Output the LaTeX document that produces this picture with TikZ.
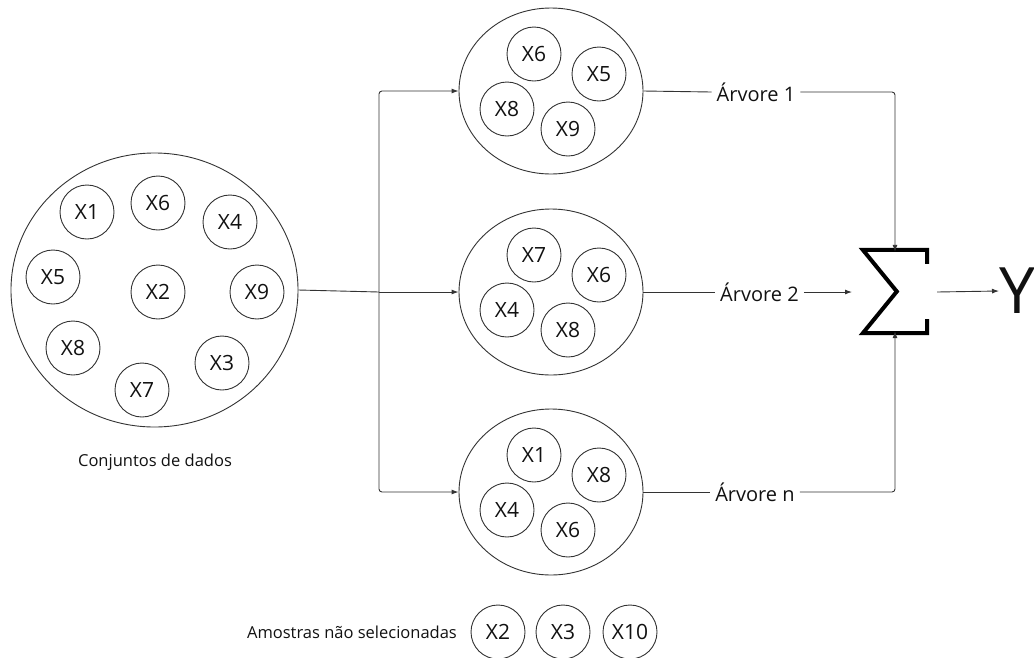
\documentclass[tikz,border=0pt]{standalone}
\usepackage{fontspec}
\setmainfont{Open Sans}
\usetikzlibrary{shapes.geometric,arrows.meta}
\definecolor{ln}{HTML}{333333}
\definecolor{tx}{HTML}{111111}
\begin{document}
\begin{tikzpicture}[x=1pt,y=-1pt,
  ball/.style={circle,draw=ln,line width=0.9pt,minimum size=54pt,inner sep=0pt,
    text=tx,font=\fontsize{21}{23}\selectfont},
  bag/.style={ellipse,draw=ln,line width=0.9pt,minimum width=184pt,minimum height=166pt,inner sep=0pt},
  lab/.style={text=tx,font=\fontsize{16.5}{18}\selectfont,inner sep=0pt},
  tree/.style={text=tx,font=\fontsize{20}{22}\selectfont,inner sep=5pt},
  wire/.style={draw=ln,line width=0.9pt},
  arr/.style={wire,-{Latex[length=7pt,width=5pt]}},
]
\useasboundingbox (0,0) rectangle (1034,657);

% full data set
\node[ellipse,draw=ln,line width=0.9pt,minimum width=287pt,minimum height=274pt,inner sep=0pt] (data) at (154.5,290) {};
\node[ball] (d1) at (87,212) {X1};
\node[ball] (d6) at (158,203) {X6};
\node[ball] (d4) at (230,222) {X4};
\node[ball] (d5) at (53,277) {X5};
\node[ball] (d2) at (158,292) {X2};
\node[ball] (d9) at (257,292) {X9};
\node[ball] (d8) at (73,348) {X8};
\node[ball] (d3) at (222,363) {X3};
\node[ball] (d7) at (142,390) {X7};
\node[lab] (cap) at (155,462) {Conjuntos de dados};

% bootstrap samples
\node[bag] (t1) at (551,91) {};
\node[ball] (a6) at (534,54) {X6};
\node[ball] (a5) at (599,74) {X5};
\node[ball] (a8) at (507,109) {X8};
\node[ball] (a9) at (568,129) {X9};

\node[bag] (t2) at (551,292) {};
\node[ball] (b7) at (534,255) {X7};
\node[ball] (b6) at (599,275) {X6};
\node[ball] (b4) at (507,310) {X4};
\node[ball] (b8) at (568,330) {X8};

\node[bag] (tn) at (551,492) {};
\node[ball] (c1) at (534,455) {X1};
\node[ball] (c8) at (599,475) {X8};
\node[ball] (c4) at (507,510) {X4};
\node[ball] (c6) at (568,530) {X6};

% split from the data set
\coordinate (jn) at (379,292);
\draw[wire] (data.east) -- (jn);
\draw[arr,rounded corners=3pt] (jn) |- (t1.west);
\draw[arr] (jn) -- (t2.west);
\draw[arr,rounded corners=3pt] (jn) |- (tn.west);

% trees
\node[tree] (v1) at (756,92) {Árvore 1};
\node[tree] (v2) at (759.5,292) {Árvore 2};
\node[tree] (vn) at (755,492) {Árvore n};

% summation
\node[minimum width=64pt,minimum height=83pt,inner sep=0pt] (sig) at (895,291.5) {};
\draw[black,line width=4pt,line join=miter,line cap=rect]
  ([yshift=-12pt]sig.north east) -- (sig.north east) -- (sig.north west)
  -- ([xshift=34pt]sig.west) -- (sig.south west) -- (sig.south east)
  -- ([yshift=12pt]sig.south east);
\coordinate (sigin) at (852,292);
\coordinate (sigout) at (937,292);

\draw[wire] (t1.east) -- (v1.west);
\draw[arr,rounded corners=3pt] (v1.east) -| ([yshift=-2pt]sig.north);
\draw[wire] (t2.east) -- (v2.west);
\draw[arr] (v2.east) -- (sigin);
\draw[wire] (tn.east) -- (vn.west);
\draw[arr,rounded corners=3pt] (vn.east) -| ([yshift=2pt]sig.south);

\node[text=tx,font=\fontsize{64}{68}\selectfont,inner sep=0pt,anchor=west] (out) at (999,291) {Y};
\draw[arr] (sigout) -- (out.west);

% samples left out
\node[lab] (amo) at (352,632) {Amostras não selecionadas};
\node[ball] (o2) at (498,632) {X2};
\node[ball] (o3) at (563,632) {X3};
\node[ball] (o10) at (630,632) {X10};
\end{tikzpicture}
\end{document}
